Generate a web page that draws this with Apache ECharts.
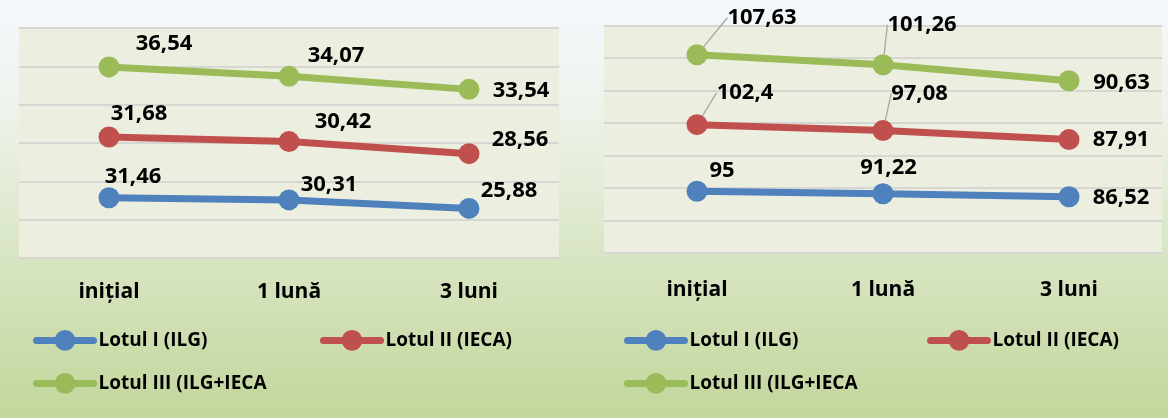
<!DOCTYPE html>
<html>
<head>
<meta charset="utf-8">
<script src="https://cdn.jsdelivr.net/npm/echarts@6/dist/echarts.min.js"></script>
<style>
  html, body { margin: 0; padding: 0; }
  #chart { width: 1168px; height: 418px; }
</style>
</head>
<body>
<div id="chart"></div>
<script>
// ---- data ----
const categories = ['inițial', '1 lună', '3 luni'];
const seriesNames = ['Lotul I (ILG)', 'Lotul II (IECA)', 'Lotul III (ILG+IECA'];
const leftILG = [31.46, 30.31, 25.88];
const leftIECA = [31.68, 30.42, 28.56];
const leftILGIECA = [36.54, 34.07, 33.54];
const rightILG = [95, 91.22, 86.52];
const rightIECA = [102.4, 97.08, 87.91];
const rightILGIECA = [107.63, 101.26, 90.63];
const leftAxisRange = [0, 120, 20];
const rightAxisRange = [0, 350, 50];

// ---- layout / style ----
const colors = ['#4f81bd', '#c0504d', '#9bbb59'];
const FONT = 'Open Sans';
const charts = [
  { values: [leftILG, leftIECA, leftILGIECA], range: leftAxisRange,
    grid: { left: 19, top: 28, width: 540, height: 230 }, labelMargin: 24,
    offsets: [[[24, -21], [40, -15], [40, -18]],
              [[30, -23], [54, -20], [51, -14]],
              [[55, -23], [47, -21], [52, 1.5]]],
    leaders: [[], [], []],
    legendLeft: [33, 320, 33] },
  { values: [rightILG, rightIECA, rightILGIECA], range: rightAxisRange,
    grid: { left: 604, top: 25.5, width: 558, height: 227.5 }, labelMargin: 27,
    offsets: [[[25, -21], [5.5, -26], [52, 1]],
              [[48, -32], [36.5, -37], [52, 0]],
              [[65, -37], [39, -40], [52.5, 1.7]]],
    leaders: [[], [0, 1], [0, 1]],
    legendLeft: [624, 927, 624] }
];
const legendTops = [330, 330, 373];

const fmt = v => String(v).replace('.', ',');

const option = {
  animation: false,
  backgroundColor: new echarts.graphic.LinearGradient(0, 0, 0, 1, [
    { offset: 0, color: '#f5f8fc' },
    { offset: 0.25, color: '#eef3ec' },
    { offset: 0.6, color: '#d9e6c5' },
    { offset: 1, color: '#c3d69b' }
  ]),
  textStyle: { fontFamily: FONT },
  grid: [], xAxis: [], yAxis: [], series: [], legend: []
};

charts.forEach((c, ci) => {
  option.grid.push(Object.assign({ show: true, backgroundColor: '#ecefdf', borderWidth: 0, containLabel: false }, c.grid));
  option.xAxis.push({
    type: 'category', gridIndex: ci, data: categories, boundaryGap: true,
    axisLine: { show: true, lineStyle: { color: '#d6d6d3', width: 2 } },
    axisTick: { show: false },
    axisLabel: { margin: c.labelMargin, fontSize: 21, fontWeight: 'bold', color: '#000', fontFamily: FONT }
  });
  option.yAxis.push({
    type: 'value', gridIndex: ci, min: c.range[0], max: c.range[1], interval: c.range[2],
    axisLine: { show: false }, axisTick: { show: false }, axisLabel: { show: false },
    splitLine: { show: true, lineStyle: { color: '#d6d6d3', width: 2 } }
  });
  c.values.forEach((vals, si) => {
    option.series.push({
      type: 'line', name: seriesNames[si], xAxisIndex: ci, yAxisIndex: ci, stack: 'stack' + ci,
      data: vals.map((v, di) => c.leaders[si].includes(di) ? { value: v, labelLine: { show: true } } : v),
      symbol: 'circle', symbolSize: 21, z: 2 + si,
      lineStyle: { color: colors[si], width: 7, cap: 'round' },
      itemStyle: { color: colors[si] },
      emphasis: { disabled: true },
      label: { show: true, formatter: p => fmt(p.value), fontSize: 22, fontWeight: 'bold', color: '#000', fontFamily: FONT },
      labelLine: { show: false, lineStyle: { color: '#a6a6a6', width: 1.3 } },
      labelLayout: params => {
        const o = c.offsets[si][params.dataIndex];
        return {
          x: params.rect.x + params.rect.width / 2 + o[0],
          y: params.rect.y + params.rect.height / 2 + o[1],
          align: 'center', verticalAlign: 'middle'
        };
      }
    });
  });
  seriesNames.forEach((n, li) => {
    option.legend.push({
      data: [n], left: c.legendLeft[li], top: legendTops[li], padding: 0,
      itemWidth: 57, itemHeight: 26, selectedMode: false,
      lineStyle: { width: 7, cap: 'round' },
      textStyle: { fontSize: 19, fontWeight: 'bold', color: '#000', fontFamily: FONT }
    });
  });
});

const chart = echarts.init(document.getElementById('chart'), null, { renderer: 'canvas' });
chart.setOption(option);
</script>
</body>
</html>
